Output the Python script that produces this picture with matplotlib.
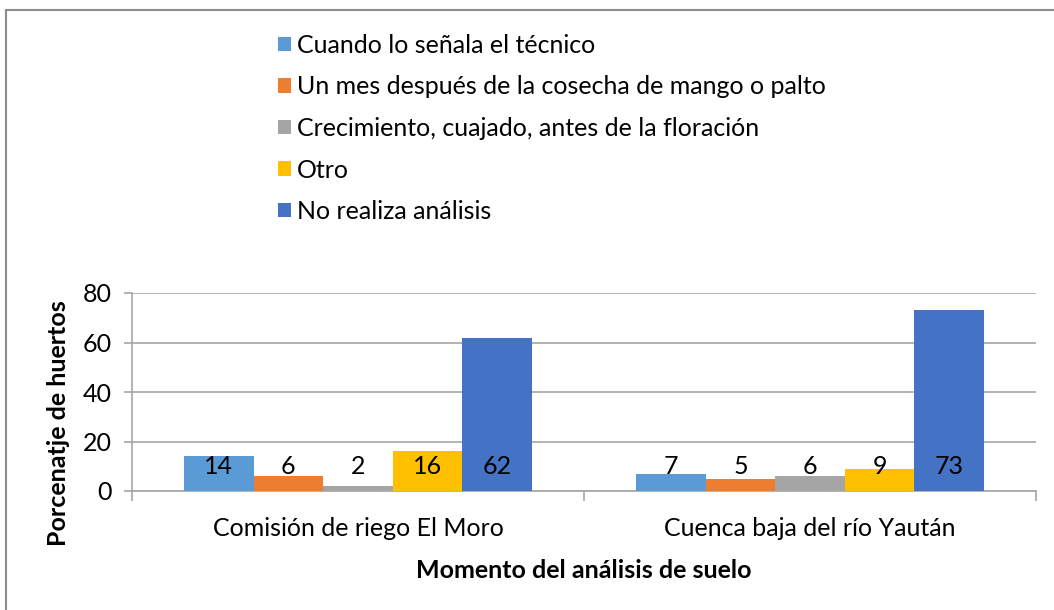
import numpy as np
import matplotlib.pyplot as plt
from matplotlib.patches import Rectangle

plt.rcParams['font.family'] = ['Lato', 'DejaVu Sans']

# data
sitios = ['Comisión de riego El Moro', 'Cuenca baja del río Yaután']
momentos = ['Cuando lo señala el técnico',
            'Un mes después de la cosecha de mango o palto',
            'Crecimiento, cuajado, antes de la floración',
            'Otro',
            'No realiza análisis']
valores = [[14, 7],
           [6, 5],
           [2, 6],
           [16, 9],
           [62, 73]]
colores = ['#5B9BD5', '#ED7D31', '#A5A5A5', '#FFC000', '#4472C4']

W, H = 1054, 610
fig = plt.figure(figsize=(W / 100, H / 100), dpi=100)
ax = fig.add_axes([132 / W, 1 - 491 / H, (1036 - 132) / W, (491 - 293) / H])

# chart area border (Excel style), runs off right/bottom edge
fig.patches.append(Rectangle((6 / W, -0.1), 1.2, (H - 10) / H + 0.1,
                             transform=fig.transFigure, fill=False,
                             edgecolor='#8c8c8c', linewidth=1.5))

x = np.arange(len(sitios))
bw = 0.154
fs = 18
bars = []
for i, (m, v, c) in enumerate(zip(momentos, valores, colores)):
    xs = x + (i - 2) * bw
    b = ax.bar(xs, v, width=bw, color=c, label=m, zorder=3)
    bars.append(b)
    # value labels sit near the base of each bar
    for xx, vv in zip(xs, v):
        ax.annotate(str(vv), xy=(xx, 0), xytext=(0, 18), textcoords='offset points',
                    ha='center', va='center', fontsize=fs, color='#000000', zorder=4)

ax.set_xlim(-0.5, 1.5)
ax.set_ylim(0, 80)
ax.set_yticks([0, 20, 40, 60, 80])
ax.grid(axis='y', color='#a6a6a6', linewidth=1.2, zorder=0)
ax.set_xticks(x)
ax.set_xticklabels(sitios)
ax.set_xticks([-0.5, 0.5, 1.5], minor=True)
ax.tick_params(axis='x', which='major', length=0, pad=19, labelsize=fs)
ax.tick_params(axis='x', which='minor', length=7, width=1.2, color='#a6a6a6')
ax.tick_params(axis='y', length=5.8, width=1.2, color='#a6a6a6', labelsize=fs, pad=9)
for s in ['top', 'right']:
    ax.spines[s].set_visible(False)
for s in ['left', 'bottom']:
    ax.spines[s].set_color('#a6a6a6')
    ax.spines[s].set_linewidth(1.2)

ax.set_ylabel('Porcenatje de huertos', fontsize=fs, fontweight='bold', va='center')
ax.yaxis.set_label_coords((58 - 132) / 904, (491 - 423) / 198)
ax.set_xlabel('Momento del análisis de suelo', fontsize=fs, fontweight='bold', va='center')
ax.xaxis.set_label_coords(0.5, (491 - 571) / 198)

fig.legend(handles=bars, labels=momentos, loc='upper left',
           bbox_to_anchor=(268 / W, 1 - 24 / H), frameon=False, fontsize=fs,
           handlelength=0.52, handleheight=0.52, handletextpad=0.25, labelspacing=0.74,
           borderaxespad=0)

fig.savefig('out.png', dpi=100)
